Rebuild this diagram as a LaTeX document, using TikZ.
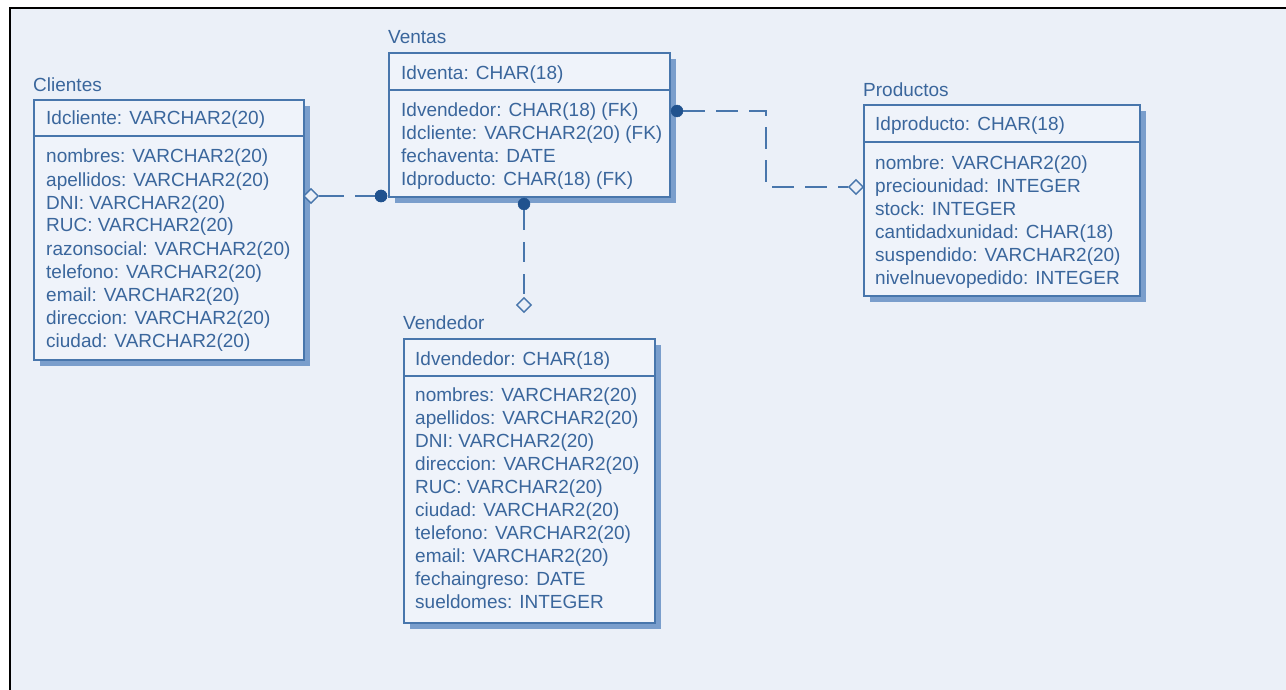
\documentclass[tikz,border=0pt]{standalone}
\usepackage{fontspec}
\setmainfont{Liberation Sans}
\usetikzlibrary{shapes.geometric}
\definecolor{bgc}{RGB}{235,240,248}
\definecolor{boxc}{RGB}{239,243,250}
\definecolor{bordc}{RGB}{72,118,172}
\definecolor{shadc}{RGB}{122,158,204}
\definecolor{txtc}{RGB}{58,102,156}
\definecolor{dotc}{RGB}{32,82,142}
\newcommand\tfont{\fontsize{19}{23}\selectfont}
\begin{document}
\begin{tikzpicture}[x=1pt,y=-1pt,
  tbox/.style={draw=bordc, fill=boxc, line width=1.8pt},
  tshadow/.style={fill=shadc, draw=none},
  tsep/.style={draw=bordc, line width=1.8pt},
  ttext/.style={text=txtc, anchor=base west, inner sep=0pt, font=\tfont},
  conn/.style={draw=bordc, line width=1.8pt, dash pattern=on 25pt off 11pt},
  fk/.style={circle, fill=dotc, draw=dotc, minimum size=12pt, inner sep=0pt},
  opend/.style={diamond, draw=bordc, fill=bgc, line width=1.4pt, minimum size=15pt, inner sep=0pt}
]
\useasboundingbox (0,0) rectangle (1286,690);
\fill[white] (0,0) rectangle (1286,690);
\fill[bgc] (10,8) rectangle (1286,690);
\draw[black, line width=2.5pt] (10,690) -- (10,8) -- (1286,8);

% ---------- Clientes ----------
\fill[tshadow] (40,106) rectangle (310,366);
\node[tbox, minimum width=270pt, minimum height=260pt, anchor=north west, inner sep=0pt] (cli) at (33,99) {};
\draw[tsep] (33,136) -- (303,136);
\node[ttext] (cliT) at (33,91.7) {Clientes};
\node[ttext] (cliK) at (46,125) {Idcliente: VARCHAR2(20)};
\foreach \t [count=\i from 0] in {nombres: VARCHAR2(20), apellidos: VARCHAR2(20), DNI: VARCHAR2(20), RUC: VARCHAR2(20), razonsocial: VARCHAR2(20), telefono: VARCHAR2(20), email: VARCHAR2(20), direccion: VARCHAR2(20), ciudad: VARCHAR2(20)}
  \node[ttext] (cliA\i) at (46,163+23*\i) {\t};

% ---------- Ventas ----------
\fill[tshadow] (395,59) rectangle (676,203);
\node[tbox, minimum width=281pt, minimum height=144pt, anchor=north west, inner sep=0pt] (ven) at (388,52) {};
\draw[tsep] (388,90) -- (669,90);
\node[ttext] (venT) at (388,44) {Ventas};
\node[ttext] (venK) at (401,80) {Idventa: CHAR(18)};
\foreach \t [count=\i from 0] in {Idvendedor: CHAR(18) (FK), Idcliente: VARCHAR2(20) (FK), fechaventa: DATE, Idproducto: CHAR(18) (FK)}
  \node[ttext] (venA\i) at (401,116.7+23*\i) {\t};

% ---------- Productos ----------
\fill[tshadow] (870,111) rectangle (1146,302);
\node[tbox, minimum width=276pt, minimum height=191pt, anchor=north west, inner sep=0pt] (pro) at (863,104) {};
\draw[tsep] (863,142) -- (1139,142);
\node[ttext] (proT) at (863,96.7) {Productos};
\node[ttext] (proK) at (875,130.7) {Idproducto: CHAR(18)};
\foreach \t [count=\i from 0] in {nombre: VARCHAR2(20), preciounidad: INTEGER, stock: INTEGER, cantidadxunidad: CHAR(18), suspendido: VARCHAR2(20), nivelnuevopedido: INTEGER}
  \node[ttext] (proA\i) at (875,169.3+22.95*\i) {\t};

% ---------- Vendedor ----------
\fill[tshadow] (410,345) rectangle (661,629);
\node[tbox, minimum width=251pt, minimum height=284pt, anchor=north west, inner sep=0pt] (vdr) at (403,338) {};
\draw[tsep] (403,376) -- (654,376);
\node[ttext] (vdrT) at (403,329) {Vendedor};
\node[ttext] (vdrK) at (415,365) {Idvendedor: CHAR(18)};
\foreach \t [count=\i from 0] in {nombres: VARCHAR2(20), apellidos: VARCHAR2(20), DNI: VARCHAR2(20), direccion: VARCHAR2(20), RUC: VARCHAR2(20), ciudad: VARCHAR2(20), telefono: VARCHAR2(20), email: VARCHAR2(20), fechaingreso: DATE, sueldomes: INTEGER}
  \node[ttext] (vdrA\i) at (415,401.7+22.95*\i) {\t};

% ---------- Connectors ----------
% Clientes -- Ventas
\node[opend] (d1) at (311,196) {};
\node[fk] (p1) at (381,196) {};
\draw[conn] (d1.east) -- (p1.center);
\node[fk] (p1b) at (381,196) {};

% Ventas -- Vendedor
\node[fk] (p2) at (524,204) {};
\node[opend] (d2) at (524,305) {};
\draw[conn, dash pattern=on 20pt off 12pt] (p2.south) -- (d2.north);

% Ventas -- Productos
\node[fk] (p3) at (677,111) {};
\node[opend] (d3) at (856,187) {};
\coordinate (b3a) at (766,111);
\coordinate (b3b) at (766,187);
\draw[conn, dash pattern=on 22pt off 11pt] (p3.east) -- (b3a) -- (b3b) -- (d3.west);
\end{tikzpicture}
\end{document}
